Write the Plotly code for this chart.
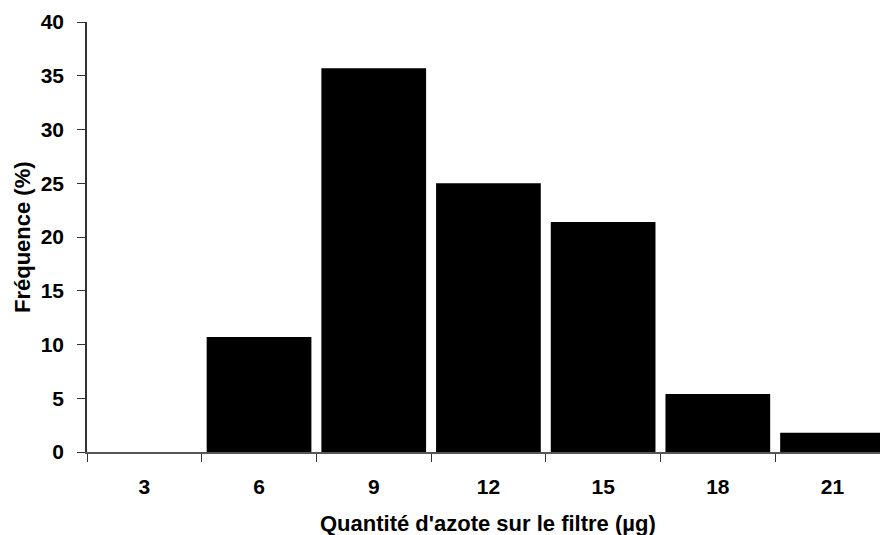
import plotly.graph_objects as go

categories = ["3", "6", "9", "12", "15", "18", "21"]
frequence = [0, 10.7, 35.7, 25.0, 21.4, 5.4, 1.8]
x_title = "Quantité d'azote sur le filtre (µg)"
y_title = "Fréquence (%)"

FAM = "Liberation Sans, Arial, sans-serif"
tickfont = dict(family=FAM, size=21, color="black", weight="bold")

fig = go.Figure()
fig.add_trace(go.Bar(
    x=categories, y=frequence,
    marker=dict(color="black", line=dict(width=0)),
    width=0.913,
))

W, H = 880, 535
L, R, T, B = 87, 0, 22, 83
pw, ph = W - L - R, H - T - B

fig.update_layout(
    width=W, height=H,
    margin=dict(l=L, r=R, t=T, b=B, autoexpand=False),
    paper_bgcolor="white", plot_bgcolor="white",
    showlegend=False,
    xaxis=dict(
        type="category",
        range=[-0.5, 6.414],
        tickson="boundaries",
        ticks="outside", ticklen=8, tickwidth=1, tickcolor="#333333",
        showline=True, linecolor="#555555", linewidth=1.5,
        showgrid=False, zeroline=False, automargin=False,
        tickfont=tickfont, ticklabelstandoff=15,
    ),
    yaxis=dict(
        range=[0, 40], tick0=0, dtick=5,
        ticks="outside", ticklen=8, tickwidth=1, tickcolor="#333333",
        showline=True, linecolor="#333333", linewidth=1.5,
        showgrid=False, zeroline=False, automargin=False,
        tickfont=tickfont, ticklabelstandoff=9,
    ),
    annotations=[
        dict(text="<b>" + x_title + "</b>", xref="paper", yref="paper",
             x=(487.5 - L) / pw, y=-(523 - (T + ph)) / ph,
             xanchor="center", yanchor="middle", showarrow=False,
             font=dict(family=FAM, size=22, color="black")),
        dict(text="<b>" + y_title + "</b>", xref="paper", yref="paper",
             x=(22 - L) / pw, y=((T + ph) - 237) / ph, textangle=-90,
             xanchor="center", yanchor="middle", showarrow=False,
             font=dict(family=FAM, size=22, color="black")),
    ],
)

fig.write_html("out.html", config={"displayModeBar": False},
               post_script="document.body.style.margin='0';document.body.style.padding='0';")
